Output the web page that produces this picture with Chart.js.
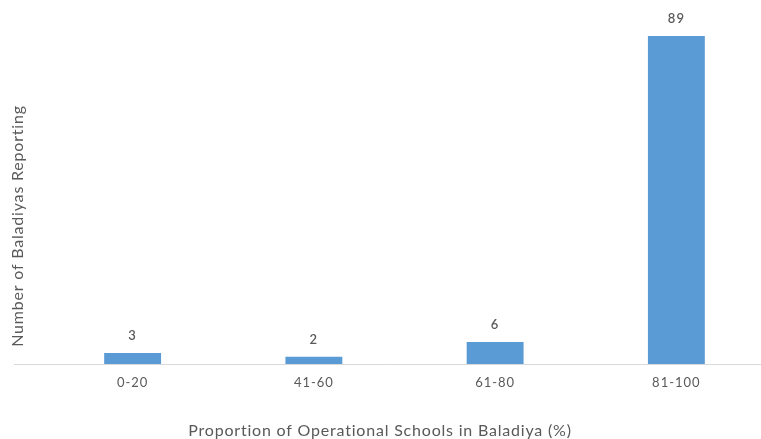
<!DOCTYPE html>
<html>
<head>
<meta charset="utf-8">
<script src="https://cdn.jsdelivr.net/npm/chart.js@4.4.1/dist/chart.umd.min.js"></script>
<style>
  html, body { margin: 0; padding: 0; background: #fff; overflow: hidden; }
</style>
</head>
<body>
<canvas id="barChart" width="767" height="439"></canvas>
<script>
const ranges = ['0-20', '41-60', '61-80', '81-100'];
const counts = [3, 2, 6, 89];
const xTitle = 'Proportion of Operational Schools in Baladiya (%)';
const yTitle = 'Number of Baladiyas Reporting';

const textColor = '#595959';
const fontName = 'Lato, "DejaVu Sans", sans-serif';

// wider tracking for every text drawn on the canvas
const tracking = {
    id: 'tracking',
    beforeDraw(chart) {
        chart.ctx.letterSpacing = '1px';
    }
};

// baseline, value labels and both axis titles
const extras = {
    id: 'extras',
    afterDatasetsDraw(chart) {
        const { ctx, scales: { y } } = chart;
        ctx.save();
        ctx.letterSpacing = '1px';

        const zero = y.getPixelForValue(0);
        ctx.strokeStyle = '#d9d9d9';
        ctx.lineWidth = 1;
        ctx.beginPath();
        ctx.moveTo(14, zero + 0.5);
        ctx.lineTo(chart.width, zero + 0.5);
        ctx.stroke();

        ctx.fillStyle = textColor;
        ctx.textAlign = 'center';
        ctx.textBaseline = 'middle';
        ctx.font = '600 13px ' + fontName;
        const meta = chart.getDatasetMeta(0);
        meta.data.forEach((bar, i) => {
            ctx.fillText(counts[i], bar.x, bar.y - 17);
        });

        ctx.font = '16px ' + fontName;
        ctx.letterSpacing = '0.8px';
        ctx.fillText(xTitle, 380, 431);

        ctx.translate(18, 226);
        ctx.rotate(-Math.PI / 2);
        ctx.fillText(yTitle, 0, 0);
        ctx.restore();
    }
};

const ctx = document.getElementById('barChart').getContext('2d');
const chart = new Chart(ctx, {
    type: 'bar',
    data: {
        labels: ranges,
        datasets: [{
            data: counts,
            backgroundColor: '#5b9bd5',
            barPercentage: 0.314,
            categoryPercentage: 1
        }]
    },
    options: {
        responsive: false,
        animation: false,
        layout: {
            padding: { left: 42, right: 0, top: 36, bottom: 51 }
        },
        scales: {
            x: {
                grid: { display: false, drawTicks: false },
                border: { display: false },
                ticks: {
                    color: textColor,
                    padding: 11,
                    font: { family: fontName, size: 13 }
                },
                afterFit(scale) {
                    scale.height = 24;
                }
            },
            y: {
                display: false,
                min: 0,
                max: Math.max(...counts)
            }
        },
        plugins: {
            legend: { display: false },
            tooltip: { enabled: false }
        }
    },
    plugins: [tracking, extras]
});
</script>
</body>
</html>
